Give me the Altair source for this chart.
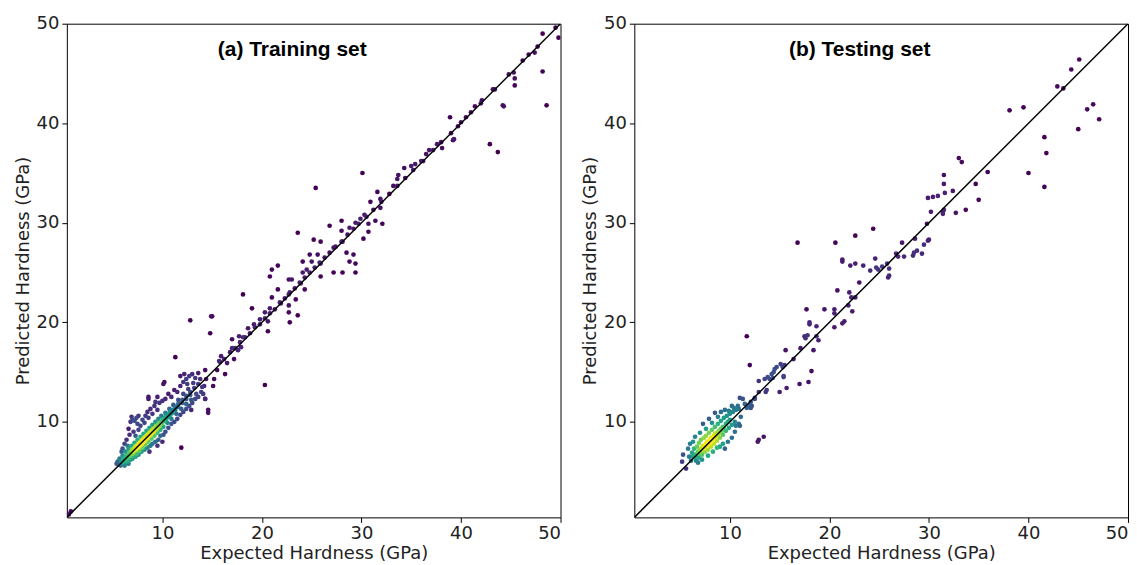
import altair as alt
import numpy as np
import pandas as pd

# ---------------- data ----------------
train_pts = [
    # near origin
    (0.6, 0.7), (0.8, 1.0),
    # dense core along the diagonal
    (5.6,5.7),(5.8,5.6),(5.9,6.1),(6.0,5.9),(6.1,6.3),(6.2,6.0),(6.3,6.5),(6.4,6.2),(6.5,6.7),(6.6,6.4),
    (6.7,6.9),(6.8,6.6),(6.9,7.1),(7.0,6.8),(7.0,7.2),(7.1,7.0),(7.2,7.4),(7.2,7.1),(7.3,7.2),(7.4,7.6),
    (7.4,7.3),(7.5,7.4),(7.5,7.7),(7.6,7.5),(7.7,7.9),(7.7,7.6),(7.8,7.7),(7.8,8.0),(7.9,7.8),(8.0,8.2),
    (8.0,7.9),(8.1,8.0),(8.1,8.3),(8.2,8.1),(8.3,8.5),(8.3,8.2),(8.4,8.3),(8.4,8.6),(8.5,8.4),(8.6,8.8),
    (8.6,8.5),(8.7,8.6),(8.7,8.9),(8.8,8.7),(8.9,9.1),(8.9,8.8),(9.0,8.9),(9.0,9.2),(9.1,9.0),(9.2,9.4),
    (9.2,9.1),(9.3,9.2),(9.4,9.6),(9.4,9.3),(9.5,9.4),(9.6,9.8),(9.6,9.5),(9.7,9.6),(9.8,10.0),(9.8,9.7),
    (9.9,9.8),(10.0,10.2),(10.0,9.9),(10.2,10.4),(10.2,10.1),(10.4,10.6),(10.4,10.3),(10.6,10.8),(10.6,10.5),
    (10.8,11.0),(10.8,10.7),(11.0,11.2),(11.0,10.9),(11.3,11.5),(11.3,11.2),(11.6,11.8),(11.6,11.5),
    (12.0,12.2),(12.0,11.9),(12.4,12.6),(12.4,12.3),(12.8,13.0),(12.8,12.7),(13.2,13.4),(13.6,13.8),
    # middle band
    (5.7,6.3),(6.0,6.6),(6.2,5.7),(6.3,7.0),(6.5,6.0),(6.6,7.3),(6.8,6.2),(6.9,7.6),(7.1,6.5),(7.2,7.9),
    (7.4,6.8),(7.5,8.2),(7.7,7.1),(7.8,8.5),(8.0,7.4),(8.1,8.8),(8.3,7.7),(8.4,9.1),(8.6,8.0),(8.7,9.4),
    (8.9,8.3),(9.0,9.7),(9.2,8.6),(9.3,10.0),(9.5,8.9),(9.6,10.3),(9.8,9.2),(9.9,10.6),(10.1,9.5),
    (10.3,10.9),(10.5,9.9),(10.7,11.3),(10.9,10.3),(11.1,11.7),(11.4,10.8),(11.6,12.2),(11.9,11.3),
    (12.1,12.8),(12.4,11.8),(12.6,13.3),(12.9,12.2),(13.1,13.9),(13.4,12.8),(13.8,14.3),(14.0,13.5),
    # outer envelope, above
    (6.0,7.3),(6.2,7.8),(6.4,8.2),(6.5,7.6),(6.7,8.7),(6.6,9.3),(6.8,10.0),(7.0,10.2),(7.2,10.1),(7.4,10.4),
    (7.1,9.0),(7.3,8.6),(7.6,9.2),(7.5,9.8),(7.8,9.6),(8.0,10.2),(8.2,9.9),(8.3,10.6),(8.5,11.0),(8.6,10.4),
    (8.8,11.3),(9.0,10.8),(9.2,11.6),(9.5,11.2),(9.7,11.9),(10.0,12.1),(10.3,12.3),(10.6,12.8),(10.9,12.5),
    (11.2,13.2),(11.5,13.0),(11.8,13.6),(12.1,14.0),(12.4,14.3),(12.7,14.6),(12.5,13.8),(13.0,14.8),
    (13.3,14.4),(13.6,14.9),(11.8,14.6),(12.2,14.8),
    # outer envelope, below
    (6.2,5.6),(6.6,5.8),(7.0,6.3),(7.3,6.5),(7.6,6.7),(7.9,7.0),(8.2,7.2),(8.5,7.4),(8.8,7.6),(9.0,7.8),
    (9.3,8.0),(9.6,8.2),(9.8,8.6),(10.1,8.7),(10.3,9.0),(10.6,9.4),(10.9,9.8),(11.2,10.0),(11.5,10.3),
    (11.8,10.7),(12.1,11.0),(12.4,11.3),(12.7,11.6),(13.0,11.9),(13.3,12.3),(13.6,12.5),(13.9,13.0),
    (14.1,12.8),(14.2,13.6),(12.9,11.2),(10.0,8.0),(9.5,7.6),(8.7,7.0),
    # scattered outliers near the cluster
    (8.6,12.5),(8.6,12.3),(9.5,12.5),(10.2,14.0),(10.1,13.8),(11.3,16.5),(11.9,7.4),(14.6,11.2),
    (14.6,10.9),(14.3,12.3),(6.9,10.5),(7.6,10.6),(9.3,12.0),(5.9,7.0),(5.5,6.0),(5.4,5.8),
    # sparse points above 14 GPa
    (48.2,49.0),(49.8,48.6),(48.2,45.2),(48.6,41.8),(45.3,45.1),(45.4,44.5),(45.4,43.8),(47.4,47.1),
    (47.7,47.7),(46.2,46.3),(42.9,37.9),(43.7,37.1),(44.3,41.7),(44.2,41.8),(43.2,43.4),(43.4,43.4),
    (42.1,42.3),(41.4,41.7),(40.5,40.6),(38.9,40.6),(39.7,39.7),(39.3,38.4),(39.2,38.3),(38.1,37.5),
    (37.6,37.9),(36.8,37.3),(36.5,36.9),(36.0,36.2),(35.4,35.9),(35.0,35.7),(34.3,35.5),(33.7,34.8),
    (33.6,34.4),(33.2,33.7),(31.6,33.1),(31.9,32.4),(31.9,31.5),(30.9,32.1),(30.1,35.0),(30.3,30.8),
    (29.9,30.4),(30.7,29.9),(31.4,30.2),(32.1,29.9),(30.2,28.4),(30.7,29.1),(29.4,30.0),(28.8,29.5),
    (29.2,26.8),(29.4,25.9),(29.4,25.0),(28.8,26.1),(28.5,27.0),(28.1,28.1),(28.0,29.2),(28.0,30.2),
    (28.1,25.0),(27.2,25.0),(27.2,27.5),(26.8,29.7),(25.9,28.1),(25.2,28.3),(25.4,33.5),(25.6,26.8),
    (25.9,25.9),(25.9,24.6),(24.8,26.8),(25.0,26.1),(24.5,25.3),(24.1,26.1),(24.1,25.0),(24.3,23.3),
    (23.9,23.9),(23.6,29.0),(23.0,24.3),(22.7,24.3),(22.7,22.8),(22.7,21.0),(22.8,20.0),(23.6,20.7),
    (23.4,22.3),(22.7,21.7),(21.9,21.9),(21.6,23.3),(21.6,25.7),(21.0,25.3),(20.8,24.6),(21.0,22.5),
    (20.8,21.4),(20.6,20.1),(20.6,19.1),(20.3,21.0),(19.8,20.3),(19.0,21.4),(19.2,19.8),(18.6,19.4),
    (18.1,22.8),(18.1,18.5),(17.9,17.5),(17.7,18.6),(17.6,17.2),(17.0,17.4),(17.0,18.3),(17.2,16.3),
    (16.5,15.9),(15.9,16.6),(15.7,16.1),(15.5,15.2),(16.3,14.8),(14.9,20.6),(15.0,20.6),(14.8,18.9),
    (14.3,15.2),(14.4,14.3),(15.2,14.3),(15.1,13.6),(14.3,12.3),(12.8,20.2),(20.3,13.7),
    # points hugging the diagonal
    (15.8,16.0),(16.2,16.3),(16.8,17.0),(17.3,17.4),(17.8,18.0),(18.3,18.5),(18.8,18.9),(19.3,19.5),
    (19.8,19.8),(20.3,20.4),(20.8,20.9),(21.3,21.3),(21.8,22.0),(22.3,22.4),(22.8,23.0),(23.3,23.4),
    (23.8,24.0),(24.3,24.5),(24.8,25.0),(25.3,25.5),(25.8,26.0),(26.3,26.5),(26.8,27.0),(27.4,27.6),
    (28.0,28.1),(28.6,28.8),(29.2,29.4),(29.7,29.9),(30.5,30.6),(31.2,31.3),(32.0,32.1),(32.8,32.9),
    (33.6,33.7),(34.4,34.5),(35.2,35.3),(36.2,36.2),(37.2,37.3),(38.0,38.1),(39.0,39.0),(40.0,40.1),
    (41.0,41.1),(42.0,42.0),(44.8,44.9),(46.8,46.9),(49.5,49.6),
]

test_pts = [
    # core
    (6.3,6.5),(6.5,6.7),(6.6,6.5),(6.8,7.0),(6.9,6.8),(7.0,7.2),(7.1,7.0),(7.2,7.4),(7.3,7.2),(7.3,7.6),
    (7.4,7.3),(7.5,7.7),(7.5,7.4),(7.6,7.8),(7.7,7.6),(7.7,8.0),(7.8,7.7),(7.9,8.1),(7.9,7.8),(8.0,8.2),
    (8.1,8.0),(8.1,8.4),(8.2,8.1),(8.3,8.5),(8.3,8.2),(8.4,8.6),(8.5,8.4),(8.5,8.8),(8.6,8.5),(8.7,8.9),
    (8.8,8.7),(8.9,9.1),(9.0,8.9),(9.1,9.3),(9.2,9.1),(9.3,9.5),(9.4,9.3),(9.6,9.8),(9.8,10.0),(10.0,10.2),
    # middle band
    (6.2,6.9),(6.4,7.3),(6.7,7.5),(6.9,7.9),(7.1,8.2),(7.4,8.4),(7.6,8.6),(7.9,8.9),(8.2,9.2),(8.5,9.5),
    (8.8,9.8),(9.1,10.1),(9.4,10.4),(9.7,10.6),(10.0,10.8),(10.3,11.0),(10.6,11.2),(10.9,11.3),(9.9,11.1),
    (10.4,11.4),(6.6,6.1),(6.9,6.4),(7.2,6.7),(7.5,7.0),(7.8,7.2),(8.1,7.5),(8.4,7.8),(8.7,8.1),(9.0,8.4),
    (9.3,8.7),(9.6,9.1),(9.9,9.4),(10.2,9.7),(10.5,10.0),
    # outer envelope
    (5.2,6.0),(5.6,5.3),(5.3,6.7),(5.8,7.3),(6.0,7.8),(6.3,8.0),(6.5,8.5),(7.0,8.9),(7.3,9.8),(7.6,9.3),
    (7.9,10.3),(8.2,9.9),(8.5,10.9),(8.8,10.5),(9.1,11.0),(9.5,11.2),(10.2,11.6),(10.8,11.6),(11.0,12.4),
    (11.3,12.3),(11.5,11.8),(11.1,10.5),(9.0,7.5),(9.5,7.3),(9.3,7.8),(9.8,8.0),(10.2,8.4),(10.5,9.0),
    (10.9,9.8),(11.0,9.6),(8.7,7.4),(8.3,7.0),(7.8,6.6),(7.2,6.2),(6.8,5.9),(6.1,6.1),(5.9,6.5),(10.6,9.6),
    (11.7,11.4),(11.9,11.6),(12.1,12.0),(12.5,12.4),
    # group near 14-15 GPa
    (15.1,15.8),(14.7,15.5),(14.5,15.3),(14.4,15.0),(14.2,14.8),(13.8,14.5),(13.5,14.3),(12.9,14.1),
    (13.7,13.2),(13.6,13.0),(12.9,13.0),(12.5,12.3),(12.2,11.6),(12.1,11.4),(15.3,15.5),(15.5,15.7),
    (14.0,14.3),(14.3,14.4),
    # sparse points
    (45.1,46.4),(44.3,45.4),(42.9,43.7),(43.5,43.5),(46.5,41.9),(45.9,41.4),(47.1,40.4),(45.0,39.4),
    (38.1,41.3),(39.5,41.6),(41.6,38.6),(41.8,37.0),(41.6,33.6),(40.0,35.0),(35.9,35.1),(35.0,32.3),
    (34.7,33.9),(33.7,31.3),(33.0,36.5),(33.3,36.1),(31.5,34.8),(31.5,33.9),(31.6,33.0),(32.4,33.2),
    (32.7,31.0),(30.9,32.7),(30.4,32.6),(29.9,32.5),(30.2,31.1),(31.5,31.3),(31.4,31.1),(31.4,30.9),
    (29.8,29.9),(30.0,28.3),(29.9,28.2),(29.5,27.8),(29.3,26.9),(28.8,27.2),(28.5,27.0),(28.4,26.7),
    (28.6,28.4),(27.3,28.0),(27.5,26.6),(26.9,26.6),(26.7,26.9),(26.0,25.4),(26.0,24.7),(25.9,24.5),
    (25.8,25.9),(25.3,25.6),(24.9,25.3),(24.7,25.5),(24.6,26.4),(24.4,29.4),(24.1,25.2),(23.4,25.7),
    (22.6,25.9),(22.6,28.7),(22.1,25.7),(23.0,24.0),(22.6,22.5),(22.2,22.5),(22.0,23.0),(21.9,21.7),
    (22.3,21.1),(21.3,26.3),(21.3,26.1),(21.5,20.1),(21.3,19.9),(20.6,28.0),(20.8,23.2),(20.5,21.3),
    (20.5,20.9),(20.5,19.5),(19.5,21.3),(18.7,18.6),(18.9,18.2),(18.7,19.6),(18.0,19.8),(18.0,20.0),
    (17.7,21.3),(18.4,17.2),(18.2,15.1),(17.9,14.0),(17.0,13.8),(16.8,28.0),(17.5,18.6),(17.6,18.4),
    (17.8,18.7),(17.1,17.4),(16.4,16.3),(15.6,17.2),(15.7,13.4),(15.0,13.0),(15.4,14.6),(15.4,14.5),
    (11.7,18.6),(12.0,15.7),(12.9,8.2),(12.8,8.0),(13.4,8.5),
]

panel_titles = ["(a) Training set", "(b) Testing set"]
axis_min, axis_max = 0.4, 50
tick_values = [10, 20, 30, 40, 50]
diag = [axis_min, axis_max]


def density_frame(pts, h, power):
    arr = np.array(pts, dtype=float)
    dx = arr[:, 0][:, None] - arr[:, 0][None, :]
    dy = arr[:, 1][:, None] - arr[:, 1][None, :]
    dens = np.exp(-(dx ** 2 + dy ** 2) / (2 * h * h)).sum(axis=1)
    dens = (dens - dens.min()) / (dens.max() - dens.min())
    dens = dens ** power
    return pd.DataFrame({"exp": arr[:, 0], "pred": arr[:, 1], "dens": dens})


def panel(pts, title, h, power):
    df = density_frame(pts, h, power)
    xs = alt.Scale(domain=[axis_min, axis_max], nice=False, zero=False)
    ys = alt.Scale(domain=[axis_min, axis_max], nice=False, zero=False)
    xa = alt.Axis(values=tick_values, title="Expected Hardness (GPa)", grid=False, domain=False,
                  tickSize=5, tickColor="black", labelPadding=2, titlePadding=2)
    ya = alt.Axis(values=tick_values, title="Predicted Hardness (GPa)", grid=False, domain=False,
                  tickSize=5, tickColor="black", labelPadding=3, titlePadding=4)
    pts_layer = alt.Chart(df).mark_circle(size=22, opacity=1, clip=True).encode(
        x=alt.X("exp:Q", scale=xs, axis=xa),
        y=alt.Y("pred:Q", scale=ys, axis=ya),
        color=alt.Color("dens:Q", scale=alt.Scale(scheme="viridis", domain=[0, 1]), legend=None),
        order=alt.Order("dens:Q"),
    )
    line_df = pd.DataFrame({"exp": diag, "pred": diag})
    line_layer = alt.Chart(line_df).mark_line(color="black", strokeWidth=1.5, clip=True).encode(
        x=alt.X("exp:Q", scale=xs), y=alt.Y("pred:Q", scale=ys)
    )
    title_layer = alt.Chart(pd.DataFrame({"t": [title]})).mark_text(
        font="Liberation Sans", fontWeight="bold", fontSize=21, color="black"
    ).encode(text="t:N", x=alt.value(226), y=alt.value(26))
    return alt.layer(pts_layer, line_layer, title_layer).properties(width=495, height=495)


chart = alt.hconcat(
    panel(train_pts, panel_titles[0], 0.45, 1.15),
    panel(test_pts, panel_titles[1], 0.9, 1.0),
    spacing=19,
).configure_view(stroke="black", strokeWidth=1).configure_axis(
    labelFont="DejaVu Sans", titleFont="DejaVu Sans", labelFontSize=18, titleFontSize=18,
    labelColor="#222222", titleColor="#222222", titleFontWeight="normal",
).properties(background="white", padding={"left": 5, "top": 5, "right": 0, "bottom": 0})

chart.save("out.html", embed_options={"renderer": "svg", "actions": False})
